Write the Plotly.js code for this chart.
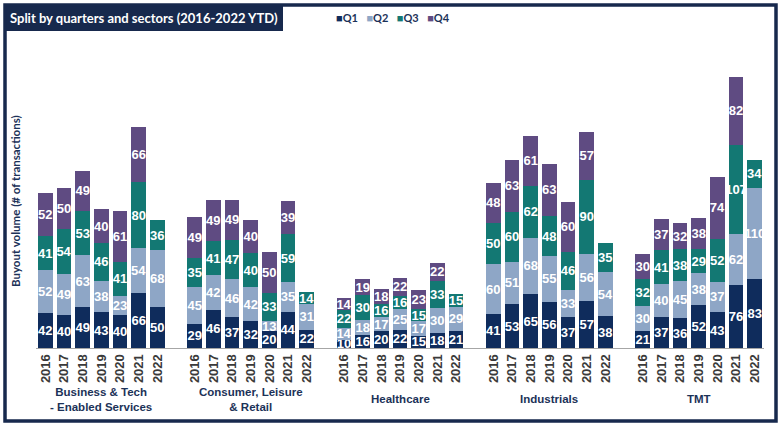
<!DOCTYPE html>
<html>
<head>
<meta charset="utf-8">
<script src="https://cdn.plot.ly/plotly-3.0.1.min.js"></script>
<style>
  html, body { margin: 0; padding: 0; background: #ffffff; }
  #chart { width: 782px; height: 427px; }
</style>
</head>
<body>
<div id="chart"></div>
<script>
// ---------------- DATA ----------------
const sectors = ["Business & Tech<br>- Enabled Services", "Consumer, Leisure<br>& Retail", "Healthcare", "Industrials", "TMT"];
const years = ["2016", "2017", "2018", "2019", "2020", "2021", "2022"];
const quarterNames = ["Q1", "Q2", "Q3", "Q4"];
const quarterColors = ["#0f2c5c", "#8ea6c6", "#137873", "#5f4b82"];

// values per sector, years 2016..2022 (2022 = YTD, no Q4)
const q1 = [
  [42, 40, 49, 43, 40, 66, 50],   // Business & Tech
  [29, 46, 37, 32, 20, 44, 22],   // Consumer
  [10, 16, 20, 22, 15, 18, 21],   // Healthcare
  [41, 53, 65, 56, 37, 57, 38],   // Industrials
  [21, 37, 36, 52, 43, 76, 83]    // TMT
];
const q2 = [
  [52, 49, 63, 38, 23, 54, 68],
  [45, 42, 46, 42, 13, 35, 31],
  [14, 18, 17, 25, 17, 30, 29],
  [60, 51, 68, 55, 33, 56, 54],
  [30, 40, 45, 38, 37, 62, 110]
];
const q3 = [
  [41, 54, 53, 46, 41, 80, 36],
  [35, 41, 47, 40, 33, 59, 14],
  [22, 30, 16, 16, 15, 33, 15],
  [50, 60, 62, 48, 46, 90, 35],
  [32, 41, 38, 29, 52, 107, 34]
];
const q4 = [
  [52, 50, 49, 40, 61, 66, null],
  [49, 49, 49, 40, 50, 39, null],
  [14, 19, 18, 22, 23, 22, null],
  [48, 63, 61, 63, 60, 57, null],
  [30, 37, 32, 38, 74, 82, null]
];
const quarterData = [q1, q2, q3, q4];

// ---------------- LAYOUT HELPERS ----------------
const W = 782, H = 427;
const M = { l: 36, r: 18, t: 66, b: 79 };
const px = x => (x - M.l) / (W - M.l - M.r);
const py = y => (H - M.b - y) / (H - M.t - M.b);

const NARROW = "'Liberation Sans Narrow', 'Arial Narrow', 'Liberation Sans', Arial, sans-serif";
const CAL = "Lato, 'Liberation Sans Narrow', sans-serif";
const slot = years.length + 1; // one blank slot between sector groups

// x positions for every bar (group index * slot + year index)
const xPos = [];
const xText = [];
sectors.forEach((s, g) => years.forEach((y, i) => { xPos.push(g * slot + i); xText.push(y); }));

const traces = quarterData.map((qd, qi) => {
  const vals = [].concat(...qd);
  return {
    type: "bar",
    name: quarterNames[qi],
    x: xPos,
    y: vals,
    text: vals.map(v => (v === null ? "" : String(v))),
    textposition: "inside",
    insidetextanchor: "middle",
    textangle: 0,
    constraintext: "none",
    textfont: { family: NARROW, size: 13, color: "#ffffff", weight: "bold" },
    marker: { color: quarterColors[qi], line: { width: 0 } },
    width: 0.8,
    hoverinfo: "skip"
  };
});

const annotations = [];
// sector labels
sectors.forEach((s, g) => {
  annotations.push({
    text: "<b>" + s + "</b>",
    xref: "x", yref: "paper",
    x: g * slot + (years.length - 1) / 2,
    y: py(399),
    xanchor: "center", yanchor: "middle",
    showarrow: false,
    font: { family: NARROW, size: 11.5, color: "#1c3258" },
    align: "center"
  });
});
// y-axis title
annotations.push({
  text: "<b>Buyout volume (# of transactions)</b>",
  xref: "paper", yref: "paper",
  x: px(15), y: py(201),
  xanchor: "center", yanchor: "middle",
  textangle: -90,
  showarrow: false,
  font: { family: CAL, size: 11.5, color: "#1c3258" }
});
// legend
annotations.push({
  text: quarterNames.map((n, i) =>
    '<span style="color:' + quarterColors[i] + '">■</span><b>' + n + '</b>').join("   "),
  xref: "paper", yref: "paper",
  x: px(334), y: py(17),
  xanchor: "left", yanchor: "middle",
  showarrow: false,
  font: { family: CAL, size: 11, color: "#1c3258" }
});

const layout = {
  width: W, height: H,
  margin: M,
  paper_bgcolor: "#ffffff",
  plot_bgcolor: "rgba(0,0,0,0)",
  barmode: "stack",
  bargap: 0.2,
  showlegend: false,
  uniformtext: { minsize: 13, mode: "show" },
  title: {
    text: "<b>Split by quarters and sectors (2016-2022 YTD)</b>",
    xref: "container", yref: "container",
    x: 10 / W, y: 1 - 18 / H,
    xanchor: "left", yanchor: "middle",
    font: { family: CAL, size: 13, color: "#ffffff" }
  },
  xaxis: {
    type: "linear",
    range: [-0.5, sectors.length * slot - 1.5],
    tickvals: xPos,
    ticktext: xText,
    tickangle: -90,
    ticks: "",
    showgrid: false,
    zeroline: false,
    showline: true,
    linecolor: "#a6a6a6",
    linewidth: 1,
    tickfont: { family: NARROW, size: 13, color: "#3a3a3a", weight: "bold" },
    fixedrange: true
  },
  yaxis: {
    range: [0, 340],
    showticklabels: false,
    showgrid: false,
    zeroline: false,
    showline: false,
    ticks: "",
    fixedrange: true
  },
  shapes: [
    // title box
    { type: "rect", xref: "paper", yref: "paper", layer: "below",
      x0: px(5), x1: px(283), y0: py(31), y1: py(5),
      fillcolor: "#17294d", line: { width: 0 } },
    // outer frame
    { type: "rect", xref: "paper", yref: "paper", layer: "above",
      x0: px(5), x1: px(776), y0: py(421), y1: py(5),
      fillcolor: "rgba(0,0,0,0)", line: { color: "#17294d", width: 3.5 } }
  ],
  annotations: annotations
};

Plotly.newPlot("chart", traces, layout, { displayModeBar: false, staticPlot: true });
</script>
</body>
</html>
